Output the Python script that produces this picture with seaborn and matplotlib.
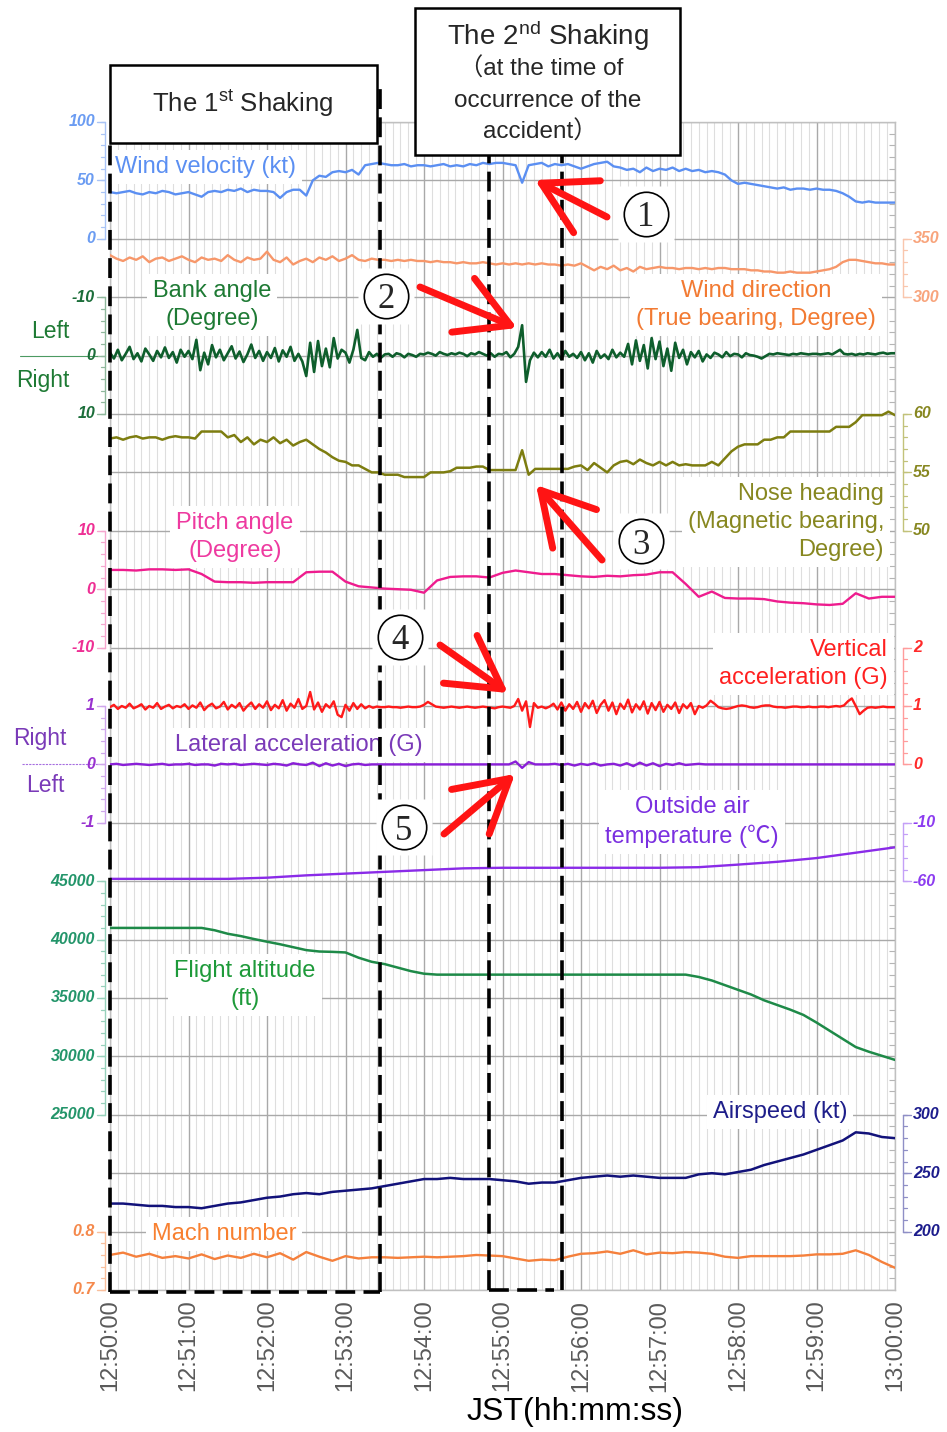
import numpy as np
import seaborn as sns
import matplotlib.pyplot as plt
from matplotlib.patches import Rectangle

sns.set_style("white")
plt.rcParams['font.family'] = ['Liberation Sans', 'Noto Sans CJK JP', 'DejaVu Sans']
plt.rcParams['mathtext.fontset'] = 'custom'
plt.rcParams['mathtext.rm'] = 'Liberation Sans'
plt.rcParams['mathtext.default'] = 'rm'

# ---- time bases (seconds after 12:50:00) ----
t3 = np.arange(0, 601, 3)
t5 = np.arange(0, 601, 5)
t10 = np.arange(0, 601, 10)
t30 = np.arange(0, 601, 30)
minute_ticks = np.arange(0, 601, 60)
minute_labels = ['12:50:00', '12:51:00', '12:52:00', '12:53:00', '12:54:00', '12:55:00',
                 '12:56:00', '12:57:00', '12:58:00', '12:59:00', '13:00:00']

# shaking periods (s)
shake1 = (0, 206)
shake2 = (290, 345.5)

# ---- values read from the record ----
wind_velocity = [40, 39, 40, 41, 39, 38, 40, 39, 41, 40, 38, 39,
                 40, 38, 36, 40, 41, 40, 42, 41, 43, 40, 42, 41,
                 41, 40, 35, 40, 42, 42, 37, 50, 54, 53, 57, 58,
                 57, 59, 55, 63, 64, 65, 64, 63, 63, 64, 62, 63,
                 63, 62, 63, 64, 62, 63, 62, 64, 63, 65, 64, 65,
                 65, 64, 63, 48, 63, 64, 65, 62, 64, 63, 64, 62,
                 60, 62, 64, 65, 66, 62, 61, 59, 60, 57, 61, 58,
                 60, 59, 61, 58, 60, 58, 59, 57, 58, 57, 55, 50,
                 47, 48, 47, 46, 45, 44, 43, 44, 42, 43, 43, 42,
                 43, 42, 42, 41, 39, 36, 32, 31, 32, 31, 31, 31, 31]

wind_direction = [336, 333, 331, 334, 332, 335, 330, 333, 334, 331, 333, 335,
                  332, 330, 334, 332, 333, 331, 336, 332, 330, 334, 332, 333,
                  339, 332, 330, 334, 328, 331, 333, 330, 334, 332, 335, 331,
                  333, 336, 332, 331, 333, 332, 332, 331, 332, 331, 332, 331,
                  331, 330, 331, 330, 330, 329, 330, 329, 329, 330, 329, 328,
                  329, 328, 329, 328, 329, 328, 329, 328, 328, 327, 328, 327,
                  329, 326, 323, 326, 324, 327, 323, 325, 322, 326, 324, 325,
                  326, 325, 325, 324, 325, 325, 324, 325, 324, 325, 325, 324,
                  324, 324, 323, 323, 322, 322, 321, 321, 322, 321, 321, 321,
                  322, 323, 324, 326, 330, 332, 332, 331, 330, 329, 329, 328, 328]

bank_angle = [-0.5, 0.5, -1.0, 0.8, -0.3, -1.5, 0.6, -0.4, 1.0, -1.2, -0.2, 0.9, -0.8, 0.3, -1.4, 0.4, -0.6, 1.2, -1.0, 0.2,
              -0.8, 0.6, -2.7, 2.5, -0.5, 1.5, -1.8, 0.3, -1.0, 0.8, -0.4, -1.6, 0.5, -0.7, 1.1, -0.2, -1.9, 0.4, -0.8, 0.9,
              -0.6, 0.4, -1.3, 1.0, -0.9, 0.2, -1.5, 0.9, -0.3, 1.0, 3.5, -2.2, 2.8, -2.5, 1.8, -1.2, 2.0, -3.0, 0.5, -1.0,
              -0.5, 1.2, -1.0, -4.4, 0.4, 0.8, -0.6, 0.2, -0.3, 0.4, -0.2, -0.3, 0.2, -0.4, -0.2, 0.3, -0.3, -0.1, 0.2, -0.3,
              -0.2, -0.5, -0.3, 0.0, -0.6, -0.3, -0.1, -0.4, -0.2, -0.5, -0.3, 0.1, -0.4, -0.2, -0.6, -0.3, 0.0, -0.4, 0.2, -0.3,
              -0.2, -0.6, 0.3, -0.3, -1.5, -5.2, 4.5, 0.8, -0.5, 0.3, -0.6, 0.2, -1.0, 0.5, -0.4, 0.6, -0.8, 0.2, -0.3, 0.4,
              -0.6, 0.8, -0.4, 1.2, -0.8, 0.4, -0.2, 0.6, -1.0, 0.3, -0.5, 0.2, -2.0, 1.5, -2.6, 0.9, -1.8, 2.2, -3.0, 0.6,
              -2.4, 1.8, -1.2, 2.6, -2.2, 0.4, -1.0, 1.5, -0.6, 0.3, -0.8, 1.0, -0.2, 0.4, -0.5, -0.2, 0.3, -0.6, 0.1, -0.3,
              -0.2, 0.3, -0.4, -0.1, 0.0, 0.2, 0.5, 0.1, -0.3, -0.2, -0.4, -0.3, -0.2, -0.1, -0.3, -0.2, -0.4, -0.3, -0.2, -0.3,
              -0.3, -0.2, -0.3, -0.4, -0.2, -0.6, -1.0, -0.3, -0.2, -0.3, -0.1, -0.3, -0.2, -0.4, -0.3, -0.2, -0.4, -0.5, -0.3, -0.4,
              -0.4]

nose_heading = [57.9, 58.0, 57.8, 58.0, 58.1, 57.9, 58.0, 58.0, 57.8, 58.0, 58.1, 58.0,
                58.0, 57.9, 58.5, 58.5, 58.5, 58.5, 58.0, 58.2, 57.6, 58.0, 57.4, 57.8,
                57.6, 58.0, 57.5, 57.8, 57.3, 57.6, 57.8, 57.4, 57.0, 56.7, 56.3, 56.0,
                55.9, 55.6, 55.6, 55.3, 55.0, 55.0, 54.8, 54.8, 54.8, 54.6, 54.6, 54.6,
                54.6, 55.0, 55.0, 55.0, 55.1, 55.4, 55.4, 55.4, 55.5, 55.5, 55.2, 55.2,
                55.2, 55.2, 55.2, 56.9, 54.8, 55.3, 55.3, 55.3, 55.3, 55.3, 55.3, 55.5,
                55.6, 55.2, 55.8, 55.4, 55.0, 55.6, 55.9, 56.0, 55.7, 56.1, 55.8, 55.6,
                55.9, 55.6, 55.9, 55.6, 55.7, 55.6, 55.6, 55.6, 55.9, 55.6, 56.2, 56.8,
                57.2, 57.4, 57.4, 57.4, 57.8, 57.8, 58.0, 58.0, 58.5, 58.5, 58.5, 58.5,
                58.5, 58.5, 58.5, 58.9, 58.9, 58.9, 59.3, 59.9, 59.9, 59.9, 59.9, 60.2, 59.9]

pitch_angle = [3.3, 3.3, 3.2, 3.4, 3.4, 3.3,
               3.4, 2.6, 1.3, 1.2, 1.2, 1.1,
               1.2, 1.2, 1.2, 2.9, 3.0, 3.0,
               1.3, 0.5, 0.3, 0.1, 0.0, -0.1,
               -0.6, 1.5, 2.1, 2.2, 2.2, 2.0,
               2.8, 3.2, 2.9, 2.6, 2.6, 2.4,
               2.2, 2.1, 2.3, 2.2, 2.4, 2.5,
               2.9, 2.9, 0.9, -1.3, -0.4, -1.5,
               -1.6, -1.6, -1.7, -2.1, -2.3, -2.4,
               -2.6, -2.7, -2.5, -0.7, -1.6, -1.3,
               -1.3]

vertical_acc = [0.98, 1.02, 0.95, 1.00, 0.97, 1.04, 0.96, 0.99, 1.03, 0.94, 1.00, 0.97, 1.05, 0.95, 0.99, 1.02, 0.96, 1.00, 0.98, 1.03,
                0.95, 1.01, 0.97, 1.06, 0.93, 1.00, 1.04, 0.96, 0.99, 1.07, 0.94, 1.02, 0.97, 1.05, 0.92, 1.00, 1.06, 0.95, 1.03, 0.97,
                1.08, 0.93, 1.02, 0.96, 1.10, 0.92, 1.04, 0.97, 1.12, 0.95, 1.00, 1.24, 0.94, 1.06, 0.90, 1.03, 0.97, 1.08, 0.85, 0.81,
                1.02, 0.92, 1.05, 0.95, 1.03, 0.96, 1.00, 0.97, 0.99, 0.98, 0.98, 0.99, 0.98, 0.98, 0.97, 0.98, 0.99, 0.98, 0.98, 0.99,
                1.02, 1.07, 1.03, 0.99, 0.98, 0.97, 0.98, 0.99, 0.98, 0.97, 0.98, 0.99, 0.98, 0.97, 0.98, 0.99, 0.98, 0.97, 0.96, 0.98,
                0.99, 0.98, 0.97, 1.00, 1.12, 0.92, 1.08, 0.64, 1.05, 0.97, 0.99, 0.96, 0.99, 1.04, 0.94, 1.06, 0.92, 1.03, 0.95, 1.07,
                0.90, 1.05, 0.96, 1.09, 0.88, 1.02, 1.10, 0.92, 1.06, 0.86, 1.04, 0.95, 1.11, 0.89, 1.03, 0.94, 1.08, 0.87, 1.05, 0.93,
                1.07, 0.90, 1.02, 0.95, 1.06, 0.88, 1.03, 0.96, 1.05, 0.86, 1.00, 0.97, 1.01, 1.09, 1.04, 0.98, 0.96, 0.95, 0.96, 0.98,
                1.00, 1.01, 1.00, 0.98, 0.97, 0.98, 1.00, 1.01, 1.01, 0.99, 0.98, 0.98, 0.97, 0.98, 0.99, 0.99, 0.98, 0.98, 0.99, 0.98,
                0.98, 0.99, 0.99, 0.98, 0.99, 1.00, 0.99, 1.01, 1.08, 1.13, 1.00, 0.86, 0.92, 0.97, 0.98, 0.97, 0.98, 0.99, 0.98, 0.98,
                0.98]

lateral_acc = [0.00, 0.01, -0.01, 0.00, 0.01, 0.00, -0.01, 0.00, 0.01, -0.01, 0.00, 0.00,
               0.01, -0.01, 0.00, 0.00, -0.02, 0.01, 0.00, 0.01, -0.01, 0.00, 0.01, 0.00,
               -0.01, 0.01, 0.00, -0.02, 0.02, 0.00, -0.01, 0.03, -0.03, 0.02, -0.02, 0.01,
               -0.03, 0.00, 0.01, -0.01, 0.00, 0.00, 0.00, 0.00, 0.00, 0.00, 0.00, 0.00,
               0.00, 0.00, 0.00, 0.00, 0.00, 0.00, 0.00, 0.00, 0.00, 0.00, 0.00, 0.00,
               0.00, 0.00, 0.05, -0.06, 0.04, 0.00, 0.00, 0.00, 0.01, -0.01, 0.01, -0.02,
               0.01, -0.01, 0.02, -0.02, 0.00, 0.01, -0.02, 0.02, -0.03, 0.03, -0.02, 0.02,
               -0.03, 0.01, -0.01, 0.02, -0.01, 0.00, 0.01, 0.00, 0.00, 0.00, 0.00, 0.00,
               0.00, 0.00, 0.00, 0.00, 0.00, 0.00, 0.00, 0.00, 0.00, 0.00, 0.00, 0.00,
               0.00, 0.00, 0.00, 0.00, 0.00, 0.00, 0.00, 0.00, 0.00, 0.00, 0.00, 0.00, 0.00]

air_temp = [-58, -58, -58, -58, -57, -55, -53.5, -52, -50.5, -49, -48.5,
            -48.5, -48.5, -48.5, -48.5, -48, -45.8, -43.4, -40.2, -35.6, -31]

altitude = [41000, 41000, 41000, 41000, 41000, 41000, 41000, 41000, 40800, 40500,
            40300, 40050, 39820, 39600, 39350, 39100, 38980, 38950, 38900, 38450,
            38100, 37900, 37600, 37300, 37080, 37000, 37000, 37000, 37000, 37000,
            37000, 37000, 37000, 37000, 37000, 37000, 37000, 37000, 37000, 37000,
            37000, 37000, 37000, 37000, 37000, 36800, 36500, 36100, 35700, 35300,
            34800, 34400, 34000, 33550, 32900, 32200, 31500, 30800, 30400, 30050, 29700]

airspeed = [224, 224, 223, 222, 222, 221,
            221, 220, 222, 224, 225, 227,
            229, 230, 232, 233, 232, 234,
            235, 236, 237, 239, 241, 243,
            245, 245, 246, 245, 245, 245,
            244, 243, 241, 242, 242, 244,
            246, 247, 248, 247, 248, 247,
            246, 246, 246, 249, 250, 249,
            251, 253, 257, 260, 263, 266,
            270, 274, 278, 285, 284, 281,
            280]

mach = [0.760, 0.764, 0.757, 0.762, 0.755, 0.758, 0.754, 0.761, 0.753, 0.759,
        0.755, 0.762, 0.756, 0.763, 0.752, 0.765, 0.757, 0.750, 0.758, 0.754,
        0.756, 0.756, 0.755, 0.756, 0.757, 0.756, 0.757, 0.758, 0.760, 0.759,
        0.758, 0.754, 0.750, 0.752, 0.751, 0.757, 0.762, 0.763, 0.766, 0.762,
        0.768, 0.761, 0.764, 0.763, 0.765, 0.764, 0.762, 0.757, 0.755, 0.758,
        0.758, 0.758, 0.758, 0.759, 0.761, 0.761, 0.762, 0.768, 0.760, 0.748, 0.738]


# ---- each trace has its own scale, stacked on a common grid (1 unit = 1 gridline) ----
def wv_g(v): return 18 + np.asarray(v, float) / 50
def wd_g(v): return 17 + (np.asarray(v, float) - 300) / 50
def bank_g(v): return 16 - np.asarray(v, float) / 10
def hdg_g(v): return 14 + (np.asarray(v, float) - 55) / 5
def pitch_g(v): return 12 + np.asarray(v, float) / 10
def vacc_g(v): return 9 + np.asarray(v, float)
def lacc_g(v): return 9 + np.asarray(v, float)
def temp_g(v): return 7 + (np.asarray(v, float) + 60) / 50
def alt_g(v): return 3 + (np.asarray(v, float) - 25000) / 5000
def ias_g(v): return 1 + (np.asarray(v, float) - 200) / 50
def mach_g(v): return (np.asarray(v, float) - 0.7) / 0.1


# pixel helpers for annotation placement
def X(px): return (px - 110) * 600 / 785
def Y(py): return (1290 - py) / 58.4


fig = plt.figure(figsize=(9.47, 14.32), dpi=100)
ax = fig.add_axes([110 / 947, 1 - 1290 / 1432, 785 / 947, 1168 / 1432])
ax.set_xlim(0, 600)
ax.set_ylim(0, 20)

# grid
ax.set_axisbelow(True)
ax.set_xticks(minute_ticks)
ax.set_xticklabels(minute_labels, rotation=90, fontsize=17, color='#5a5a5a')
ax.set_xticks(np.arange(0, 601, 6), minor=True)
ax.set_yticks(np.arange(0, 21, 1))
ax.set_yticklabels([])
ax.set_yticks(np.arange(0, 20.01, 0.2), minor=True)
ax.grid(which='major', axis='both', color='#a9a9a9', lw=1.0)
ax.grid(which='minor', axis='x', color='#dedede', lw=0.8)
ax.tick_params(axis='x', which='both', length=0, pad=7)
ax.tick_params(axis='y', which='major', length=0)
ax.tick_params(axis='y', which='minor', left=False, right=True, direction='in',
               length=4, color='#b5b5b5', width=0.8)
for s in ax.spines.values():
    s.set_color('#c0c0c0')
    s.set_linewidth(1.0)

# traces
traces = [
    (t5, wind_velocity, wv_g, '#5b8ff2', 1.7),
    (t5, wind_direction, wd_g, '#f7976a', 1.7),
    (t3, bank_angle, bank_g, '#0e5e2c', 1.9),
    (t5, nose_heading, hdg_g, '#7d7d10', 1.8),
    (t10, pitch_angle, pitch_g, '#ee1c8e', 1.7),
    (t3, vertical_acc, vacc_g, '#ff1a1a', 1.7),
    (t5, lateral_acc, lacc_g, '#8a1fd8', 1.7),
    (t30, air_temp, temp_g, '#8a2be8', 1.7),
    (t10, altitude, alt_g, '#1e8a48', 1.8),
    (t10, airspeed, ias_g, '#12127a', 1.8),
    (t10, mach, mach_g, '#f5803c', 1.7),
]
for tt, vals, fn, col, lw in traces:
    sns.lineplot(x=tt, y=fn(vals), color=col, linewidth=lw, estimator=None,
                 ax=ax, zorder=5)


# side scales
def side_axis(side, ticks, fn, labels, color, lcolor, vmin, vmax, step):
    if side == 'left':
        xl, xmaj, xmin_, xt, ha = X(105), X(97), X(101), X(95), 'right'
    else:
        xl, xmaj, xmin_, xt, ha = X(903), X(911), X(907), X(913), 'left'
    g0, g1 = fn(vmin), fn(vmax)
    ax.plot([xl, xl], [g0, g1], color=lcolor, lw=1.0, clip_on=False)
    for g in np.arange(min(g0, g1), max(g0, g1) + 1e-6, step):
        ax.plot([xmin_, xl], [g, g], color=lcolor, lw=0.9, clip_on=False)
    for v, lab in zip(ticks, labels):
        g = fn(v)
        ax.plot([xmaj, xl], [g, g], color=lcolor, lw=1.0, clip_on=False)
        ax.text(xt, g, lab, ha=ha, va='center', fontsize=11.5, fontstyle='italic',
                fontweight='bold', color=color, clip_on=False)


side_axis('left', [100, 50, 0], wv_g, ['100', '50', '0'], '#6b9cf2', '#a9c4f6', 0, 100, 0.2)
side_axis('left', [-10, 0, 10], bank_g, ['-10', '0', '10'], '#1c6e3a', '#8fb89c', -10, 10, 0.2)
side_axis('left', [10, 0, -10], pitch_g, ['10', '0', '-10'], '#ee2f94', '#f6a6cf', -10, 10, 0.2)
side_axis('left', [1, 0, -1], lacc_g, ['1', '0', '-1'], '#9932d0', '#cfa6ec', -1, 1, 0.2)
side_axis('left', [45000, 40000, 35000, 30000, 25000], alt_g,
          ['45000', '40000', '35000', '30000', '25000'], '#23956a', '#97d1bb', 25000, 45000, 0.2)
side_axis('left', [0.8, 0.7], mach_g, ['0.8', '0.7'], '#f5894c', '#f9bf9c', 0.7, 0.8, 0.2)
side_axis('right', [350, 300], wd_g, ['350', '300'], '#f8a47c', '#f9c6ad', 300, 350, 0.2)
side_axis('right', [60, 55, 50], hdg_g, ['60', '55', '50'], '#878720', '#c2c27a', 50, 60, 0.2)
side_axis('right', [2, 1, 0], vacc_g, ['2', '1', '0'], '#ff2a2a', '#ff9c9c', 0, 2, 0.2)
side_axis('right', [-10, -60], temp_g, ['-10', '-60'], '#8c3cf0', '#c4a0f7', -60, -10, 0.2)
side_axis('right', [300, 250, 200], ias_g, ['300', '250', '200'], '#1c1c8c', '#8f8fc6', 200, 300, 0.2)

# zero lines for left / right scales
ax.plot([X(20), X(97)], [bank_g(0), bank_g(0)], color='#4c9a62', lw=0.8, clip_on=False)
ax.plot([X(22), X(97)], [lacc_g(0), lacc_g(0)], color='#a66ee0', lw=0.8, ls=(0, (2, 1)), clip_on=False)
side_kw = dict(fontsize=16.5, ha='center', va='center', clip_on=False)
ax.text(X(50), Y(332), 'Left', color='#1e7a34', **side_kw)
ax.text(X(43), Y(380), 'Right', color='#1e7a34', **side_kw)
ax.text(X(40), Y(738), 'Right', color='#7a3ab8', **side_kw)
ax.text(X(45), Y(786), 'Left', color='#7a3ab8', **side_kw)

# trace labels
lab_box = dict(boxstyle='square,pad=0.25', fc='white', ec='none')
lab_kw = dict(fontsize=17, va='center', linespacing=1.38, zorder=4, bbox=lab_box)
ax.text(X(115), Y(167), 'Wind velocity (kt)', ha='left', color='#5b8ff2', **lab_kw)
ax.text(X(212), Y(305), 'Bank angle\n(Degree)', ha='center', multialignment='center', color='#1e7a34', **lab_kw)
ax.text(X(756), Y(305), 'Wind direction\n(True bearing, Degree)', ha='center', multialignment='center',
        color='#f27a32', **lab_kw)
ax.text(X(884), Y(522), 'Nose heading\n(Magnetic bearing,\nDegree)', ha='right', multialignment='right',
        color='#878720', **lab_kw)
ax.text(X(235), Y(537), 'Pitch angle\n(Degree)', ha='center', multialignment='center', color='#ee3aa0', **lab_kw)
ax.text(X(888), Y(664), 'Vertical\nacceleration (G)', ha='right', multialignment='right', color='#ff2020', **lab_kw)
ax.text(X(175), Y(745), 'Lateral acceleration (G)', ha='left', color='#7a3ab8', **lab_kw)
ax.text(X(692), Y(822), 'Outside air\ntemperature (\u2103)', ha='center', multialignment='center',
        color='#7a2fe0', **lab_kw)
ax.text(X(245), Y(985), 'Flight altitude\n(ft)', ha='center', multialignment='center', color='#1e9a3a', **lab_kw)
ax.text(X(713), Y(1112), 'Airspeed (kt)', ha='left', color='#1e1e8a', **lab_kw)
ax.text(X(152), Y(1234), 'Mach number', ha='left', color='#f88030', **lab_kw)

# shaking boxes
for (x0, y0, x1, y1) in [(110, 65, 377, 143), (415, 8, 680, 155)]:
    ax.add_patch(Rectangle((X(x0), Y(y1)), X(x1) - X(x0), Y(y0) - Y(y1), fc='white', ec='black',
                           lw=1.8, zorder=9, clip_on=False))
ax.text(X(243), Y(104), 'The 1$^{st}$ Shaking', ha='center', va='center', fontsize=18.5, zorder=10, clip_on=False)
ax.text(X(548), Y(36), 'The 2$^{nd}$ Shaking', ha='center', va='center', fontsize=20, zorder=10, clip_on=False)
ax.text(X(541), Y(69), '\uff08at the time of', ha='center', va='center', fontsize=17.5, zorder=10, clip_on=False)
ax.text(X(548), Y(101), 'occurrence of the', ha='center', va='center', fontsize=17.5, zorder=10, clip_on=False)
ax.text(X(540), Y(132), 'accident\uff09', ha='center', va='center', fontsize=17.5, zorder=10, clip_on=False)

# dashed outlines of the shaking periods
dash_kw = dict(color='black', lw=2.6, dashes=(5.5, 2.3), zorder=11, clip_on=False)
ax.plot([shake1[0], shake1[0]], [Y(1292), Y(143)], **dash_kw)
ax.plot([shake1[1], shake1[1]], [Y(1292), Y(83)], **dash_kw)
ax.plot([shake1[0], shake1[1]], [Y(1292), Y(1292)], **dash_kw)
ax.plot([shake2[0], shake2[0]], [0, Y(155)], **dash_kw)
ax.plot([shake2[1], shake2[1]], [0, Y(155)], **dash_kw)
ax.plot([shake2[0], shake2[1] - 6], [0, 0], **dash_kw)

# numbered red arrows
marks = [('1', (646, 214), (607, 217), (535, 180)),
         ('2', (386, 296), (420, 287), (517, 328)),
         ('3', (641, 541), (602, 560), (536, 485)),
         ('4', (400, 637), (440, 645), (508, 693)),
         ('5', (404, 827), (444, 834), (515, 774))]
for num, c, tail, tip in marks:
    ax.plot(X(c[0]), Y(c[1]), marker='s', ms=40, mfc='white', mec='none', zorder=12, clip_on=False)
    ax.plot(X(c[0]), Y(c[1]), marker='o', ms=32, mfc='white', mec='black', mew=1.2, zorder=13, clip_on=False)
    ax.text(X(c[0]), Y(c[1]), num, ha='center', va='center_baseline', fontsize=25,
            family='Liberation Serif', zorder=14, clip_on=False)
    ax.annotate('', xy=(X(tip[0]), Y(tip[1])), xytext=(X(tail[0]), Y(tail[1])),
                arrowprops=dict(arrowstyle='->,head_length=3.7,head_width=2.1', color='#ff1414',
                                lw=5, mutation_scale=10, shrinkA=0, shrinkB=0),
                annotation_clip=False, zorder=15)

ax.set_xlabel('JST(hh:mm:ss)', fontsize=23, color='black')
ax.xaxis.set_label_coords((575 - 110) / 785, (1290 - 1397) / 1168)
ax.set_ylabel('')

fig.savefig('out.png', dpi=100)
